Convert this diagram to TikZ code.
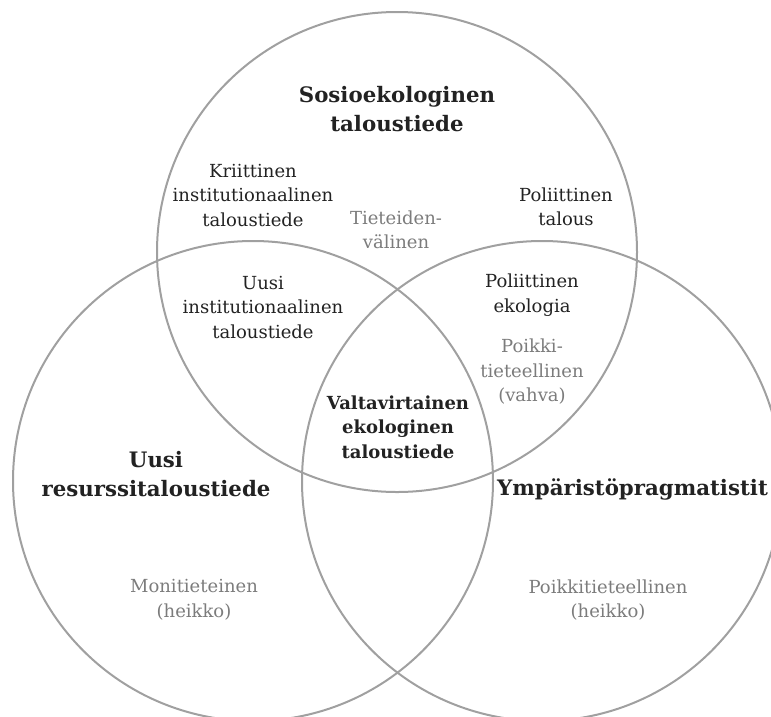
\documentclass[tikz,border=0pt]{standalone}
\usepackage{fontspec}
\setmainfont{DejaVu Serif}
\usepackage{xcolor}
\usetikzlibrary{positioning}
\definecolor{VennLine}{HTML}{A0A0A0}
\definecolor{VennInk}{HTML}{222222}
\definecolor{VennGray}{HTML}{7C7C7C}

\begin{document}
\begin{tikzpicture}[
  x=1pt, y=-1pt,
  ring/.style={draw=VennLine, line width=2pt, circle, minimum size=480pt, inner sep=0pt},
  field/.style={text=VennInk, align=center, inner sep=0pt, font=\fontsize{18}{24.5}\selectfont},
  reach/.style={field, text=VennGray},
  title/.style={text=VennInk, align=center, inner sep=0pt, font=\fontsize{21.3}{29.5}\selectfont\bfseries},
  core/.style={title, font=\fontsize{18}{24.5}\selectfont\bfseries}
]
  \useasboundingbox (0,0) rectangle (771,716);
  \clip (0,0) rectangle (771,716);
  % the three schools
  \node[ring] (sosio) at (397,252) {};
  \node[ring] (resurssi) at (253,481) {};
  \node[ring] (pragma) at (542,481) {};
  % titles
  \node[title] (sosioTitle) at (397,109) {Sosioekologinen\\taloustiede};
  \node[title] (resurssiTitle) at (156,474) {Uusi\\resurssitaloustiede};
  \node[title, anchor=west] (pragmaTitle) at (497,489) {Ympäristöpragmatistit};
  \node[core] (valta) at (398,427) {Valtavirtainen\\ekologinen\\taloustiede};
  % fields
  \node[field] (kriittinen) at (253,195) {Kriittinen\\institutionaalinen\\taloustiede};
  \node[field] (polTalous) at (566,207) {Poliittinen\\talous};
  \node[field] (uusiInst) at (263,307) {Uusi\\institutionaalinen\\taloustiede};
  \node[field] (polEko) at (532,295) {Poliittinen\\ekologia};
  % disciplinary reach
  \node[reach] (tieteiden) at (396,230) {Tieteiden-\\välinen};
  \node[reach] (poikkiVahva) at (532,372) {Poikki-\\tieteellinen\\(vahva)};
  \node[reach] (moni) at (194,600) {Monitieteinen\\(heikko)};
  \node[reach] (poikkiHeikko) at (608,600) {Poikkitieteellinen\\(heikko)};
\end{tikzpicture}
\end{document}
